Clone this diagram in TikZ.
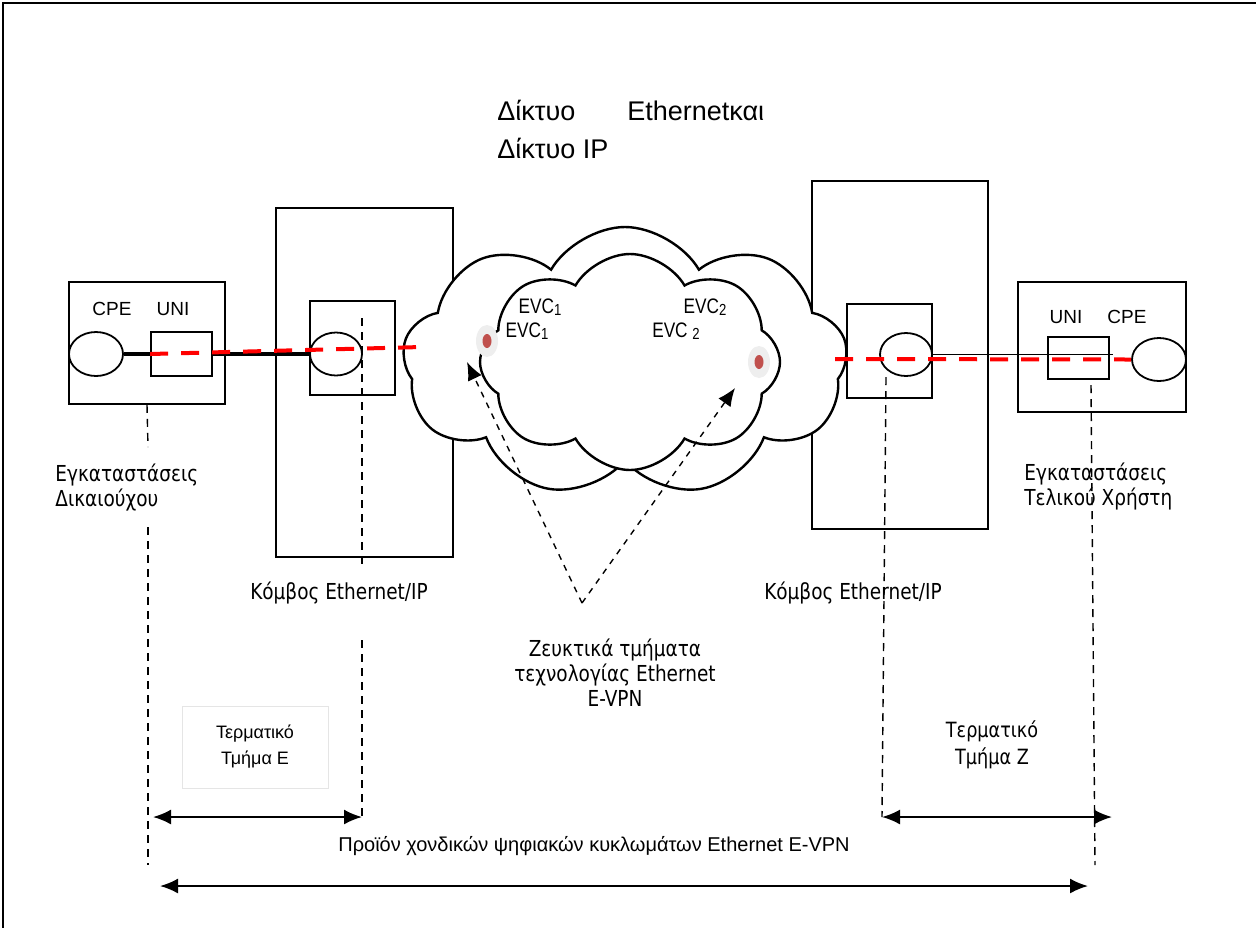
\documentclass[tikz,border=0pt]{standalone}
\usepackage{fontspec}
\setmainfont{Liberation Sans}
\newfontfamily\tahoma[FakeStretch=0.84]{DejaVu Sans}
\newfontfamily\arialn[FakeStretch=0.82]{Liberation Sans}
\usepackage{tikz}
\usetikzlibrary{arrows.meta}
\usetikzlibrary{shapes.geometric,shapes.symbols}
\definecolor{evcred}{RGB}{192,80,77}
\definecolor{halo}{RGB}{238,238,238}
\newcommand{\sub}[1]{\raisebox{-1pt}{\fontsize{8pt}{8pt}\selectfont #1}}

\begin{document}
\begin{tikzpicture}[x=0.5pt,y=-0.5pt,
    >={Latex[length=9pt,width=7.5pt]},
    box/.style={draw,line width=0.9pt,inner sep=0pt},
    port/.style={draw,ellipse,line width=0.9pt,inner sep=0pt},
    guide/.style={line width=0.7pt,dash pattern=on 4pt off 3pt},
    evcpath/.style={red,line width=2pt,dash pattern=on 9pt off 6.5pt},
    netcloud/.style={cloud,draw,fill=white,line width=1.2pt,cloud puff arc=120,cloud ignores aspect,inner sep=0pt},
    lbl/.style={font=\tahoma\fontsize{11pt}{12.5pt}\selectfont,align=left,inner sep=0pt},
    tag/.style={font=\fontsize{9.5pt}{11pt}\selectfont,inner sep=0pt},
    evc/.style={font=\arialn\fontsize{10.5pt}{12pt}\selectfont,inner sep=0pt}]
    \useasboundingbox (0,0) rectangle (1256,927);
    \draw [line width=1pt] (3,940) -- (3,3) -- (1260,3);
    % boxes
    \node [box,minimum width=78pt,minimum height=61pt] (siteL) at (147,343) {};
    \node [box,minimum width=88.5pt,minimum height=174.5pt] (nodeL) at (364.5,382.5) {};
    \node [box,minimum width=88pt,minimum height=174pt] (nodeR) at (900,355) {};
    \node [box,minimum width=84pt,minimum height=65pt] (siteR) at (1102,347) {};
    % cloud
    \node [netcloud,cloud puffs=9,minimum width=222.5pt,minimum height=135pt] (cloudout) at (625,362) {};
    \node [netcloud,cloud puffs=8,minimum width=150pt,minimum height=108pt] (cloudin) at (630,362) {};
    \node [box,minimum width=42.5pt,minimum height=47pt] (portL) at (352.5,348) {};
    \node [box,minimum width=42.5pt,minimum height=47pt] (portR) at (889.5,351) {};
    \node [port,minimum width=27pt,minimum height=22pt] (cpeL) at (96,354) {};
    \node [box,minimum width=30.5pt,minimum height=22pt] (uniL) at (181.5,354) {};
    \node [port,minimum width=26pt,minimum height=21.5pt] (nicL) at (336,354) {};
    \node [port,minimum width=26pt,minimum height=21.5pt] (nicR) at (906,354.5) {};
    \node [box,minimum width=30.5pt,minimum height=21pt] (uniR) at (1078.5,358) {};
    \node [port,minimum width=27pt,minimum height=21.5pt] (cpeR) at (1159,359.5) {};
    \node [tag] (cpeLt) at (112,309) {CPE};
    \node [tag] (uniLt) at (173,309) {UNI};
    \node [tag] (uniRt) at (1066,317) {UNI};
    \node [tag] (cpeRt) at (1127,317) {CPE};
    % links
    \coordinate (redL) at (422,347);
    \coordinate (redR) at (835,359);
    \coordinate (wireR) at (1113,354.5);
    \draw [line width=2pt] (cpeL) -- (uniL);
    \draw [line width=2pt] (uniL) -- (nicL);
    \draw [line width=0.8pt] (nicR.east) -- (wireR);
    \draw [evcpath] (uniL.west) -- (redL);
    \draw [evcpath] (redR) -- (cpeR.west);
    % evc points
    \node [ellipse,fill=halo,minimum width=11pt,minimum height=16pt] (halo1) at (487,341) {};
    \node [ellipse,fill=evcred,inner sep=0pt,minimum width=4.5pt,minimum height=7pt] (dot1) at (487,341) {};
    \node [ellipse,fill=halo,minimum width=11pt,minimum height=16pt] (halo2) at (759,362) {};
    \node [ellipse,fill=evcred,inner sep=0pt,minimum width=4.5pt,minimum height=7pt] (dot2) at (759,362) {};
    \node [evc] (evc1a) at (540,307) {EVC\sub{1}};
    \node [evc] (evc1b) at (527,331) {EVC\sub{1}};
    \node [evc] (evc2a) at (705,307) {EVC\sub{2}};
    \node [evc] (evc2b) at (676,331) {EVC \sub{2}};
    \coordinate (apex) at (582,603);
    \coordinate (tip1) at (467,362);
    \coordinate (tip2) at (735,388);
    \draw [dashed,line width=0.7pt,->] (apex) -- (tip1);
    \draw [dashed,line width=0.7pt,->] (apex) -- (tip2);
    % labels
    \node [anchor=west,inner sep=0pt,font=\fontsize{13.5pt}{19pt}\selectfont] (title1) at (497,110) {Δίκτυο\hspace{26pt}Ethernetκαι};
    \node [anchor=west,inner sep=0pt,font=\fontsize{13.5pt}{19pt}\selectfont] (title2) at (497,148) {Δίκτυο IP};
    \node [lbl,anchor=west] (premL) at (55,487) {Εγκαταστάσεις\\Δικαιούχου};
    \node [lbl,anchor=west] (premR) at (1024,486) {Εγκαταστάσεις\\Τελικού Χρήστη};
    \node [lbl] (nodeLt) at (339,593) {Κόμβος Ethernet/IP};
    \node [lbl] (nodeRt) at (853,593) {Κόμβος Ethernet/IP};
    \node [lbl,align=center] (joint) at (615,673) {Ζευκτικά τμήματα\\τεχνολογίας Ethernet\\E-VPN};
    \node [draw=black!10,align=center,inner sep=0pt,minimum width=73pt,minimum height=41pt,font=\fontsize{9pt}{13pt}\selectfont] (termE) at (255,747) {Τερματικό\\Τμήμα E};
    \node [lbl,align=center,font=\tahoma\fontsize{10.5pt}{13.5pt}\selectfont] (termZ) at (992,745) {Τερματικό\\Τμήμα Z};
    \node [inner sep=0pt,font=\fontsize{10pt}{12pt}\selectfont] (product) at (594,846) {Προϊόν χονδικών ψηφιακών κυκλωμάτων Ethernet E-VPN};
    % guides
    \coordinate (gA1) at (148,447); \coordinate (gA2) at (148,527); \coordinate (gA3) at (148,865);
    \coordinate (gB1) at (362,318); \coordinate (gB2) at (362,567);
    \coordinate (gB3) at (362,640); \coordinate (gB4) at (362,817);
    \coordinate (gC1) at (886,377); \coordinate (gC2) at (882,817);
    \coordinate (gD1) at (1091,385); \coordinate (gD2) at (1095,865);
    \draw [guide] (siteL.south) -- (gA1);
    \draw [guide] (gA2) -- (gA3);
    \draw [guide] (gB1) -- (gB2);
    \draw [guide] (gB3) -- (gB4);
    \draw [guide] (gC1) -- (gC2);
    \draw [guide] (gD1) -- (gD2);
    % spans
    \coordinate (eL) at (153,817); \coordinate (zL) at (882,817); \coordinate (zR) at (1112,817);
    \coordinate (pL) at (160,886); \coordinate (pR) at (1088,886);
    \draw [<->,line width=1pt] (eL) -- (gB4);
    \draw [<->,line width=1pt] (zL) -- (zR);
    \draw [<->,line width=1pt] (pL) -- (pR);
\end{tikzpicture}
\end{document}
